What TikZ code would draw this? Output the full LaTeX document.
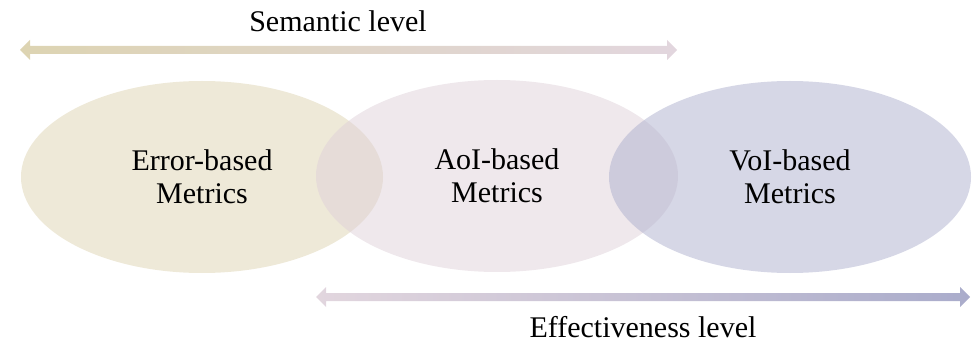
\documentclass[tikz,border=0pt]{standalone}
\usepackage{fontspec}
\setmainfont{Liberation Serif}
\usetikzlibrary{shapes.geometric}
\definecolor{tanbase}{RGB}{221,211,177}
\definecolor{mauvebase}{RGB}{223,209,217}
\definecolor{bluebase}{RGB}{173,175,205}
\definecolor{arrtan}{RGB}{221,212,178}
\definecolor{arrmauve}{RGB}{226,214,222}
\definecolor{arrblue}{RGB}{170,172,203}
\tikzset{
  metric/.style={ellipse, minimum width=362pt, minimum height=192pt, inner sep=0pt,
    fill opacity=0.5, text opacity=1, align=center, font=\fontsize{30}{33}\selectfont},
  levellabel/.style={font=\fontsize{30}{33}\selectfont, inner sep=0pt},
}
\begin{document}
\begin{tikzpicture}[x=1pt,y=1pt]
\useasboundingbox (0,0) rectangle (977,343);
% overlapping metric families
\node[metric, fill=tanbase]   (err) at (202,166) {Error-based\\Metrics};
\node[metric, fill=mauvebase] (aoi) at (497,167) {AoI-based\\Metrics};
\node[metric, fill=bluebase]  (voi) at (790,166) {VoI-based\\Metrics};
% semantic level double arrow
\shade[left color=arrtan, right color=arrmauve]
  (20,293) -- (30,303) -- (30,297) -- (667,297) -- (667,303) -- (677,293)
  -- (667,283) -- (667,289) -- (30,289) -- (30,283) -- cycle;
\node[levellabel] (sem) at (338,322) {Semantic level};
% effectiveness level double arrow
\shade[left color=arrmauve, right color=arrblue]
  (316,46) -- (326,56) -- (326,50) -- (960,50) -- (960,56) -- (970,46)
  -- (960,36) -- (960,42) -- (326,42) -- (326,36) -- cycle;
\node[levellabel] (eff) at (643,16) {Effectiveness level};
\end{tikzpicture}
\end{document}
